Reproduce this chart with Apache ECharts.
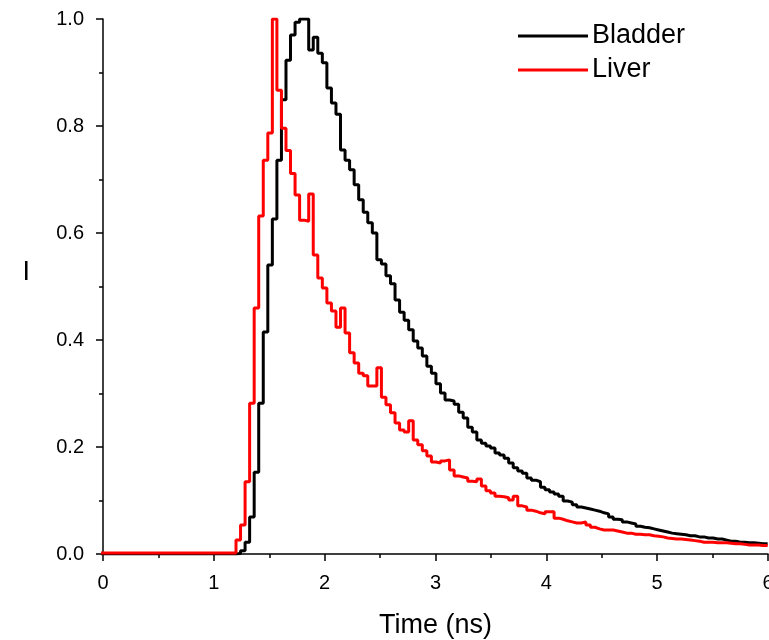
<!DOCTYPE html>
<html>
<head>
<meta charset="utf-8">
<script src="https://cdn.jsdelivr.net/npm/echarts@6/dist/echarts.min.js"></script>
<style>
  html, body { margin: 0; padding: 0; background: #fff; }
  #chart { width: 769px; height: 640px; }
</style>
</head>
<body>
<div id="chart"></div>
<script>
// Time grid: left edge of each histogram bin (ns)
const tStart = -0.03;
const dt = 0.041;

const seriesNames = ['Bladder', 'Liver'];

// Bladder intensity per bin
const bladder = [
  0,0,0,0,0,0,0,0,0,0,
  0,0,0,0,0,0,0,0,0,0,
  0,0,0,0,0,0,0,0,0,0,
  0.001,0.006,0.022,0.069,0.153,0.282,0.415,0.54,0.626,0.736,
  0.849,0.923,0.97,0.994,1.0,1.0,0.942,0.966,0.936,0.918,
  0.871,0.843,0.822,0.755,0.736,0.718,0.69,0.662,0.639,0.619,
  0.6,0.55,0.542,0.52,0.505,0.475,0.452,0.437,0.419,0.398,
  0.385,0.37,0.351,0.338,0.318,0.301,0.288,0.286,0.28,0.265,
  0.254,0.237,0.228,0.213,0.207,0.202,0.198,0.189,0.185,0.179,
  0.17,0.161,0.155,0.151,0.142,0.138,0.135,0.125,0.12,0.116,
  0.112,0.108,0.099,0.097,0.092,0.088,0.086,0.084,0.082,0.08,
  0.077,0.075,0.069,0.065,0.064,0.06,0.058,0.056,0.052,0.05,
  0.049,0.047,0.045,0.043,0.041,0.039,0.038,0.037,0.036,0.034,
  0.034,0.032,0.032,0.03,0.03,0.028,0.028,0.026,0.024,0.024,
  0.022,0.022,0.021,0.021,0.02,0.019,0.019,0.019
];

// Liver intensity per bin
const liver = [
  0.002,0.002,0.002,0.002,0.002,0.002,0.002,0.002,0.002,0.002,
  0.002,0.002,0.002,0.002,0.002,0.002,0.002,0.002,0.002,0.002,
  0.002,0.002,0.002,0.002,0.002,0.002,0.002,0.002,0.002,0.002,
  0.026,0.054,0.135,0.282,0.46,0.632,0.736,0.787,1.0,0.867,
  0.796,0.754,0.711,0.671,0.624,0.622,0.673,0.559,0.516,0.497,
  0.469,0.454,0.424,0.46,0.413,0.376,0.357,0.338,0.333,0.314,
  0.314,0.348,0.293,0.279,0.264,0.245,0.232,0.228,0.249,0.213,
  0.204,0.193,0.183,0.172,0.17,0.174,0.176,0.157,0.146,0.144,
  0.142,0.136,0.135,0.14,0.127,0.118,0.114,0.108,0.107,0.105,
  0.101,0.108,0.09,0.088,0.082,0.08,0.077,0.075,0.079,0.079,
  0.067,0.065,0.062,0.06,0.058,0.058,0.06,0.054,0.05,0.047,
  0.045,0.045,0.045,0.043,0.041,0.039,0.039,0.037,0.037,0.036,
  0.036,0.034,0.033,0.032,0.03,0.029,0.028,0.028,0.027,0.026,
  0.025,0.024,0.022,0.022,0.022,0.021,0.021,0.021,0.02,0.019,
  0.019,0.018,0.017,0.017,0.017,0.016,0.016,0.015
];

const xTicks = [0, 1, 2, 3, 4, 5, 6];
const yTicks = [0, 0.2, 0.4, 0.6, 0.8, 1.0];

function toPairs(vals) {
  return vals.map((v, i) => [tStart + i * dt, v]);
}

const FONT = 'Liberation Sans, Arial, Helvetica, sans-serif';
const chart = echarts.init(document.getElementById('chart'), null, { renderer: 'canvas' });

const axisCommon = {
  axisLine: { show: true, onZero: false, lineStyle: { color: '#000', width: 1.5 } },
  axisTick: { show: true, inside: false, length: 7, lineStyle: { color: '#000', width: 1.5 } },
  minorTick: { show: true, splitNumber: 2, length: 4, lineStyle: { color: '#000', width: 1.5 } },
  splitLine: { show: false },
  minorSplitLine: { show: false }
};

chart.setOption({
  animation: false,
  backgroundColor: '#fff',
  grid: { left: 103, right: 1, top: 19, bottom: 86, containLabel: false, outerBoundsMode: 'none' },
  legend: {
    data: seriesNames,
    orient: 'vertical',
    left: 518,
    top: 22,
    icon: 'rect',
    itemWidth: 70,
    itemHeight: 3,
    itemGap: 6,
    padding: 0,
    textStyle: { fontFamily: FONT, fontSize: 27, lineHeight: 28, color: '#000', padding: [0, 0, 0, -1] }
  },
  xAxis: Object.assign({
    type: 'value',
    min: xTicks[0],
    max: xTicks[xTicks.length - 1],
    interval: 1,
    name: 'Time (ns)',
    nameLocation: 'middle',
    nameGap: 58,
    nameTextStyle: { fontFamily: FONT, fontSize: 27, color: '#000' },
    axisLabel: { fontFamily: FONT, fontSize: 20, color: '#000', margin: 19 }
  }, axisCommon),
  yAxis: Object.assign({
    type: 'value',
    min: yTicks[0],
    max: yTicks[yTicks.length - 1],
    interval: 0.2,
    name: 'I',
    nameLocation: 'middle',
    nameRotate: 0,
    nameGap: 73,
    nameTextStyle: { fontFamily: FONT, fontSize: 27, lineHeight: 27, color: '#000', verticalAlign: 'bottom' },
    axisLabel: { fontFamily: FONT, fontSize: 20, color: '#000', margin: 19,
      formatter: v => v.toFixed(1) }
  }, axisCommon),
  series: [
    {
      name: seriesNames[0], type: 'line', step: 'end', symbol: 'none',
      data: toPairs(bladder),
      lineStyle: { color: '#000', width: 3 },
      itemStyle: { color: '#000' },
      clip: true, z: 2
    },
    {
      name: seriesNames[1], type: 'line', step: 'end', symbol: 'none',
      data: toPairs(liver),
      lineStyle: { color: '#ff0000', width: 3 },
      itemStyle: { color: '#ff0000' },
      clip: true, z: 3
    }
  ]
});
</script>
</body>
</html>
